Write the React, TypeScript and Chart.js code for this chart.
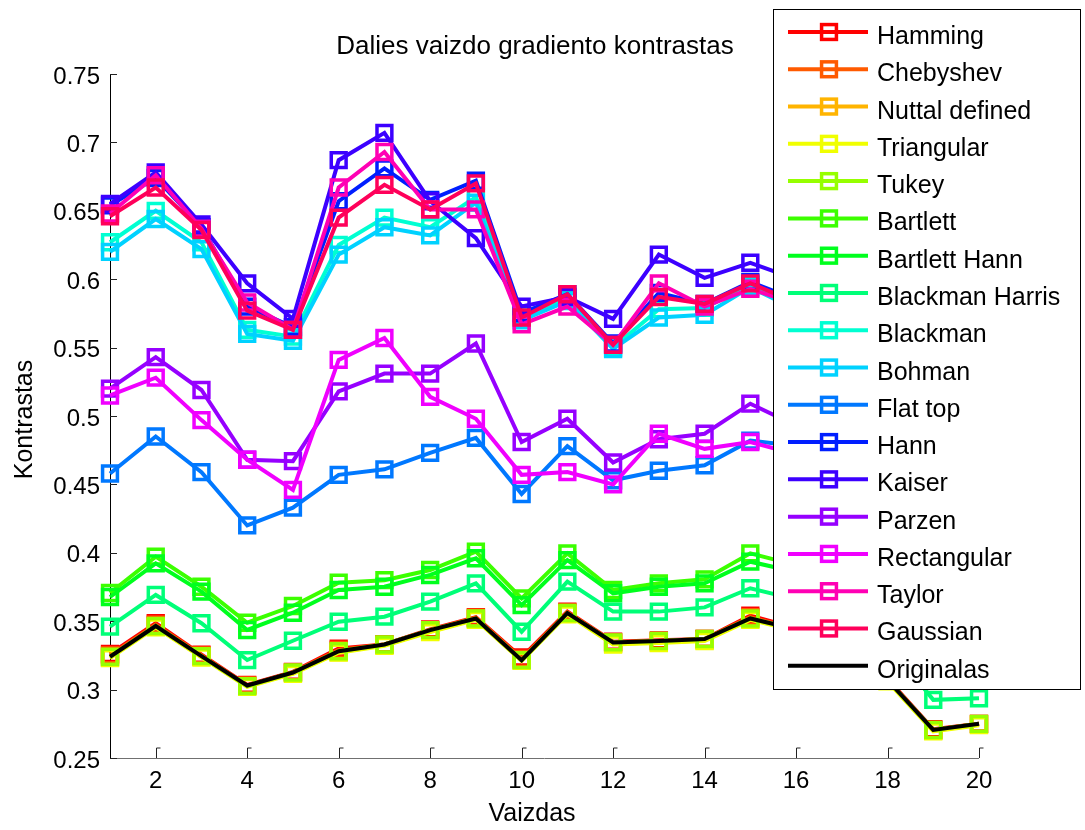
import React, { useEffect, useRef } from 'react';
import { Chart, registerables } from 'chart.js';

Chart.register(...registerables);

// Image index (x axis) and axis ticks
const images = [1, 2, 3, 4, 5, 6, 7, 8, 9, 10, 11, 12, 13, 14, 15, 16, 17, 18, 19, 20];
const xTickValues = [2, 4, 6, 8, 10, 12, 14, 16, 18, 20];
const yTickValues = [0.25, 0.3, 0.35, 0.4, 0.45, 0.5, 0.55, 0.6, 0.65, 0.7, 0.75];
const yTickLabels = ['0.25', '0.3', '0.35', '0.4', '0.45', '0.5', '0.55', '0.6', '0.65', '0.7', '0.75'];

const titleText = 'Dalies vaizdo gradiento kontrastas';
const xTitle = 'Vaizdas';
const yTitle = 'Kontrastas';

// Window function names and colours (hsv palette), original last
const seriesNames = [
  'Hamming', 'Chebyshev', 'Nuttal defined', 'Triangular', 'Tukey', 'Bartlett',
  'Bartlett Hann', 'Blackman Harris', 'Blackman', 'Bohman', 'Flat top', 'Hann',
  'Kaiser', 'Parzen', 'Rectangular', 'Taylor', 'Gaussian', 'Originalas',
];
const seriesColors = [
  '#FF0000', '#FF5A00', '#FFB400', '#F0FF00', '#96FF00', '#3CFF00',
  '#00FF1E', '#00FF78', '#00FFD2', '#00D2FF', '#0078FF', '#001EFF',
  '#3C00FF', '#9600FF', '#F000FF', '#FF00B4', '#FF005A', '#000000',
];

// Contrast values per window, images 1..20
const hamming = [0.326, 0.3485, 0.3255, 0.3035, 0.313, 0.330, 0.333, 0.344, 0.353, 0.3235, 0.357, 0.335, 0.336, 0.337, 0.354, 0.345, 0.331, 0.308, 0.271, 0.275];
const chebyshev = [0.325, 0.3475, 0.325, 0.303, 0.3125, 0.329, 0.333, 0.3435, 0.3525, 0.3225, 0.3565, 0.3345, 0.3355, 0.337, 0.353, 0.344, 0.330, 0.307, 0.2705, 0.275];
const nuttal = [0.3235, 0.346, 0.324, 0.3025, 0.312, 0.3275, 0.3325, 0.3425, 0.3515, 0.3215, 0.3555, 0.3335, 0.3345, 0.336, 0.3515, 0.3435, 0.3295, 0.3065, 0.270, 0.2745];
const triangular = [0.323, 0.3455, 0.3235, 0.302, 0.3115, 0.327, 0.332, 0.342, 0.351, 0.321, 0.355, 0.333, 0.334, 0.3355, 0.351, 0.343, 0.329, 0.306, 0.2695, 0.274];
const tukey = [0.324, 0.3465, 0.3245, 0.3025, 0.3125, 0.328, 0.333, 0.3435, 0.352, 0.3215, 0.356, 0.3345, 0.3355, 0.337, 0.352, 0.344, 0.330, 0.307, 0.2705, 0.275];
const bartlett = [0.3706, 0.3972, 0.3752, 0.3489, 0.3611, 0.3781, 0.380, 0.3874, 0.4008, 0.3667, 0.3996, 0.3728, 0.3777, 0.3806, 0.3996, 0.391, 0.378, 0.353, 0.315, 0.320];
const bartlettHann = [0.3677, 0.3923, 0.3716, 0.3436, 0.3562, 0.3728, 0.3752, 0.3838, 0.396, 0.3618, 0.3947, 0.3704, 0.3752, 0.3777, 0.3935, 0.386, 0.374, 0.349, 0.311, 0.316];
const blackmanHarris = [0.346, 0.3692, 0.3485, 0.3216, 0.3357, 0.3496, 0.3533, 0.3643, 0.3777, 0.3423, 0.3789, 0.357, 0.357, 0.3601, 0.3741, 0.366, 0.356, 0.334, 0.2925, 0.2937];
const blackman = [0.627, 0.650, 0.627, 0.563, 0.558, 0.625, 0.645, 0.638, 0.660, 0.573, 0.586, 0.550, 0.578, 0.579, 0.596, 0.580, 0.570, 0.560, 0.525, 0.535];
const bohman = [0.620, 0.644, 0.622, 0.560, 0.555, 0.618, 0.638, 0.632, 0.656, 0.570, 0.584, 0.549, 0.572, 0.574, 0.594, 0.578, 0.568, 0.558, 0.522, 0.532];
const flatTop = [0.458, 0.485, 0.459, 0.420, 0.433, 0.457, 0.461, 0.473, 0.484, 0.443, 0.478, 0.453, 0.460, 0.464, 0.482, 0.478, 0.470, 0.460, 0.430, 0.440];
const hann = [0.654, 0.674, 0.638, 0.580, 0.565, 0.657, 0.681, 0.658, 0.672, 0.575, 0.589, 0.553, 0.590, 0.582, 0.598, 0.585, 0.575, 0.565, 0.535, 0.545];
const kaiser = [0.655, 0.678, 0.640, 0.597, 0.571, 0.687, 0.707, 0.657, 0.630, 0.580, 0.587, 0.571, 0.618, 0.601, 0.612, 0.600, 0.590, 0.580, 0.550, 0.560];
const parzen = [0.520, 0.543, 0.519, 0.468, 0.467, 0.518, 0.531, 0.531, 0.553, 0.481, 0.498, 0.466, 0.483, 0.487, 0.509, 0.493, 0.500, 0.490, 0.460, 0.470];
const rectangular = [0.515, 0.528, 0.497, 0.468, 0.446, 0.541, 0.557, 0.514, 0.498, 0.457, 0.459, 0.450, 0.487, 0.476, 0.481, 0.472, 0.480, 0.470, 0.440, 0.450];
const taylor = [0.648, 0.676, 0.637, 0.583, 0.563, 0.667, 0.693, 0.651, 0.651, 0.567, 0.580, 0.552, 0.597, 0.580, 0.593, 0.582, 0.572, 0.562, 0.532, 0.542];
const gaussian = [0.646, 0.667, 0.636, 0.577, 0.563, 0.645, 0.669, 0.651, 0.670, 0.572, 0.589, 0.552, 0.587, 0.582, 0.597, 0.583, 0.573, 0.563, 0.533, 0.543];
const originalas = [0.324, 0.3465, 0.3245, 0.303, 0.3125, 0.328, 0.333, 0.3435, 0.352, 0.3215, 0.356, 0.3345, 0.3355, 0.337, 0.352, 0.344, 0.330, 0.307, 0.2705, 0.275];

const seriesValues = [
  hamming, chebyshev, nuttal, triangular, tukey, bartlett, bartlettHann,
  blackmanHarris, blackman, bohman, flatTop, hann, kaiser, parzen,
  rectangular, taylor, gaussian, originalas,
];

const FONT = "'Liberation Sans', Arial, Helvetica, sans-serif";
const LINE_W = 4;
const MARK_R = 10.5;
const MARK_W = 3.5;

// Axis lines, inward tick marks, titles and the boxed legend
const decorPlugin = {
  id: 'decor',
  beforeDatasetsDraw(chart: any) {
    const { ctx, chartArea: a, scales } = chart;
    ctx.save();
    ctx.lineWidth = 1;
    ctx.strokeStyle = '#000';
    ctx.beginPath();
    ctx.moveTo(a.left + 0.5, a.top);
    ctx.lineTo(a.left + 0.5, a.bottom + 1);
    ctx.stroke();
    ctx.strokeStyle = '#707070';
    ctx.beginPath();
    ctx.moveTo(a.left, a.bottom + 0.5);
    ctx.lineTo(a.right, a.bottom + 0.5);
    ctx.stroke();
    ctx.strokeStyle = '#222';
    yTickValues.forEach((v) => {
      const py = Math.round(scales.y.getPixelForValue(v)) + 0.5;
      ctx.beginPath();
      ctx.moveTo(a.left, py);
      ctx.lineTo(a.left + 7, py);
      ctx.stroke();
    });
    xTickValues.forEach((v) => {
      const px = Math.round(scales.x.getPixelForValue(v)) + 0.5;
      ctx.beginPath();
      ctx.moveTo(px, a.bottom);
      ctx.lineTo(px, a.bottom - 10);
      ctx.lineTo(px + 4, a.bottom - 10);
      ctx.stroke();
    });
    ctx.restore();
  },
  afterDraw(chart: any) {
    const { ctx } = chart;
    ctx.save();
    ctx.fillStyle = '#000';
    ctx.textBaseline = 'alphabetic';
    ctx.textAlign = 'center';
    ctx.font = `26px ${FONT}`;
    ctx.fillText(titleText, 535, 54);
    ctx.font = `25px ${FONT}`;
    ctx.fillText(xTitle, 532, 821);
    ctx.save();
    ctx.translate(32, 419.5);
    ctx.rotate(-Math.PI / 2);
    ctx.fillText(yTitle, 0, 0);
    ctx.restore();

    // legend box
    const bx = 773, by = 9, bw = 307, bh = 680;
    ctx.fillStyle = '#fff';
    ctx.fillRect(bx, by, bw, bh);
    ctx.strokeStyle = '#000';
    ctx.lineWidth = 1;
    ctx.strokeRect(bx + 0.5, by + 0.5, bw, bh);
    ctx.textAlign = 'left';
    ctx.font = `25px ${FONT}`;
    chart.data.datasets.forEach((ds: any, i: number) => {
      const ly = 32 + i * 37.28;
      ctx.strokeStyle = ds.borderColor;
      ctx.lineWidth = LINE_W;
      ctx.beginPath();
      ctx.moveTo(788, ly);
      ctx.lineTo(868, ly);
      ctx.stroke();
      if (ds.pointRadius > 0) {
        const s = MARK_R * Math.SQRT1_2;
        ctx.lineWidth = MARK_W;
        ctx.strokeRect(829 - s, ly - s, 2 * s, 2 * s);
      }
      ctx.fillStyle = '#000';
      ctx.fillText(ds.label, 877, ly + 12);
    });
    ctx.restore();
  },
};

export default function App() {
  const canvasRef = useRef<HTMLCanvasElement | null>(null);

  useEffect(() => {
    const canvas = canvasRef.current;
    if (!canvas) return;
    const datasets = seriesNames.map((name, i) => {
      const isOriginal = i === seriesNames.length - 1;
      return {
        label: name,
        data: seriesValues[i],
        borderColor: seriesColors[i],
        backgroundColor: 'transparent',
        borderWidth: LINE_W,
        pointStyle: 'rect',
        pointRadius: isOriginal ? 0 : MARK_R,
        pointBorderWidth: MARK_W,
        pointBorderColor: seriesColors[i],
        pointBackgroundColor: 'transparent',
        tension: 0,
        clip: false,
        order: -i,
      };
    });

    const chart = new Chart(canvas, {
      type: 'line',
      data: { labels: images, datasets },
      options: {
        responsive: false,
        animation: false,
        events: [],
        layout: { padding: { top: 74, right: 106, left: 0, bottom: 0 } },
        plugins: {
          legend: { display: false },
          title: { display: false },
          tooltip: { enabled: false },
        },
        scales: {
          x: {
            type: 'linear',
            min: 1,
            max: 20,
            afterBuildTicks: (s: any) => {
              s.ticks = xTickValues.map((v) => ({ value: v }));
            },
            afterFit: (s: any) => {
              s.height = 72;
            },
            grid: { display: false, drawTicks: false },
            border: { display: false },
            ticks: {
              font: { family: FONT, size: 24 },
              color: '#000',
              padding: 9,
              maxRotation: 0,
              autoSkip: false,
            },
          },
          y: {
            type: 'linear',
            min: 0.25,
            max: 0.75,
            afterBuildTicks: (s: any) => {
              s.ticks = yTickValues.map((v) => ({ value: v }));
            },
            afterFit: (s: any) => {
              s.width = 110;
            },
            grid: { display: false, drawTicks: false },
            border: { display: false },
            ticks: {
              font: { family: FONT, size: 24 },
              color: '#000',
              padding: 10,
              labelOffset: 3,
              autoSkip: false,
              callback: (_v: any, idx: number) => yTickLabels[idx],
            },
          },
        },
      },
      plugins: [decorPlugin],
    } as any);

    return () => chart.destroy();
  }, []);

  return (
    <div style={{ position: 'absolute', left: 0, top: 0, width: 1085, height: 830, background: '#fff' }}>
      <canvas ref={canvasRef} width={1085} height={830} />
    </div>
  );
}
